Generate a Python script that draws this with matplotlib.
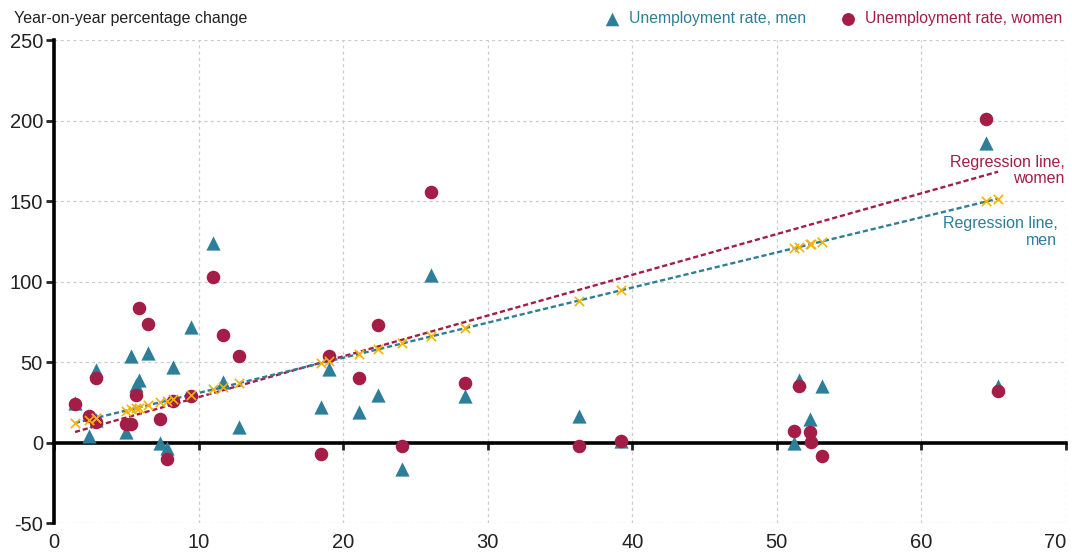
import numpy as np
import matplotlib.pyplot as plt

# x value per country, with year-on-year change for men and women
x_vals = [1.45, 2.4, 2.9, 2.9, 5.0, 5.3, 5.7, 5.85, 6.5, 7.3, 7.8, 8.2, 9.5,
          11.0, 11.7, 12.8, 18.5, 19.0, 21.1, 22.4, 24.1, 26.1, 28.4, 36.3,
          39.2, 51.2, 51.5, 52.3, 52.35, 53.1, 64.5, 65.3]
men = [25, 4, 45, 14, 7, 54, 36, 39, 56, 0, -3, 47, 72,
       124, 38, 10, 22, 46, 19, 30, -16, 104, 29, 17,
       1, 0, 39, 15, 3, 35, 186, 35]
women = [24, 17, 40, 13, 12, 12, 30, 84, 74, 15, -10, 26, 29,
         103, 67, 54, -7, 54, 40, 73, -2, 156, 37, -2,
         1, 7.5, 35, 7, 0.5, -8, 201, 32]

# regression coefficients (intercept, slope)
men_fit = (9.2, 2.18)
women_fit = (3.1, 2.53)

teal = "#2d7e98"
crimson = "#a31d47"
gold = "#f2b400"
grid_c = "#cccccc"

plt.rcParams['font.family'] = ['Liberation Sans', 'DejaVu Sans']
plt.rcParams['axes.unicode_minus'] = False

fig = plt.figure(figsize=(10.72, 5.56), dpi=100)
ax = fig.add_axes([0.0504, 0.0585, 0.944, 0.8695])

x = np.array(x_vals)
xl = np.array([x.min(), x.max()])

ax.plot(xl, women_fit[0] + women_fit[1] * xl, ls=(0, (2.2, 1.2)), lw=1.7, color=crimson, zorder=3)
ax.plot(xl, men_fit[0] + men_fit[1] * xl, ls=(0, (2.2, 1.2)), lw=1.7, color=teal, zorder=3)

ax.scatter(x, men, marker='^', s=105, color=teal, linewidths=0, zorder=4,
           label="Unemployment rate, men")
ax.scatter(x, women, marker='o', s=95, color=crimson, linewidths=0, zorder=5,
           label="Unemployment rate, women")
ax.scatter(x, men_fit[0] + men_fit[1] * x, marker='x', s=45, color=gold, linewidths=1.2, zorder=6)

ax.set_xlim(0, 70)
ax.set_ylim(-50, 250)
ax.set_xticks(range(0, 71, 10))
ax.set_yticks(range(-50, 251, 50))

ax.grid(True, color=grid_c, ls=(0, (2.5, 2.5)), lw=0.9)
ax.set_axisbelow(True)

for s in ['top', 'right']:
    ax.spines[s].set_visible(False)
ax.spines['left'].set_linewidth(2.6)
ax.spines['bottom'].set_position(('data', 0))
ax.spines['bottom'].set_linewidth(2.6)
ax.spines['bottom'].set_zorder(2)

ax.tick_params(axis='y', length=6, width=2, labelsize=14.5, pad=2, colors='#222222')
ax.tick_params(axis='x', length=5, width=2, labelsize=14.5, pad=60, colors='#222222')
ax.get_xticklabels()[-1].set_ha('right')

fig.text(14 / 1072, 1 - 19 / 556, "Year-on-year percentage change", fontsize=11.5,
         color='#222222', ha='left', va='center')

ax.text(69.9, 169, "Regression line,\nwomen", color=crimson, fontsize=11.5,
        ha='right', va='center', linespacing=1.15)
ax.text(69.4, 131, "Regression line,\nmen", color=teal, fontsize=11.5,
        ha='right', va='center', linespacing=1.15)

leg = fig.legend(loc='upper right', bbox_to_anchor=(1.004, 1.006), ncol=2, frameon=False,
                 fontsize=11.3, labelcolor='markerfacecolor', handletextpad=0.05,
                 columnspacing=1.7, markerscale=0.95)

fig.savefig("out.png", dpi=100)
